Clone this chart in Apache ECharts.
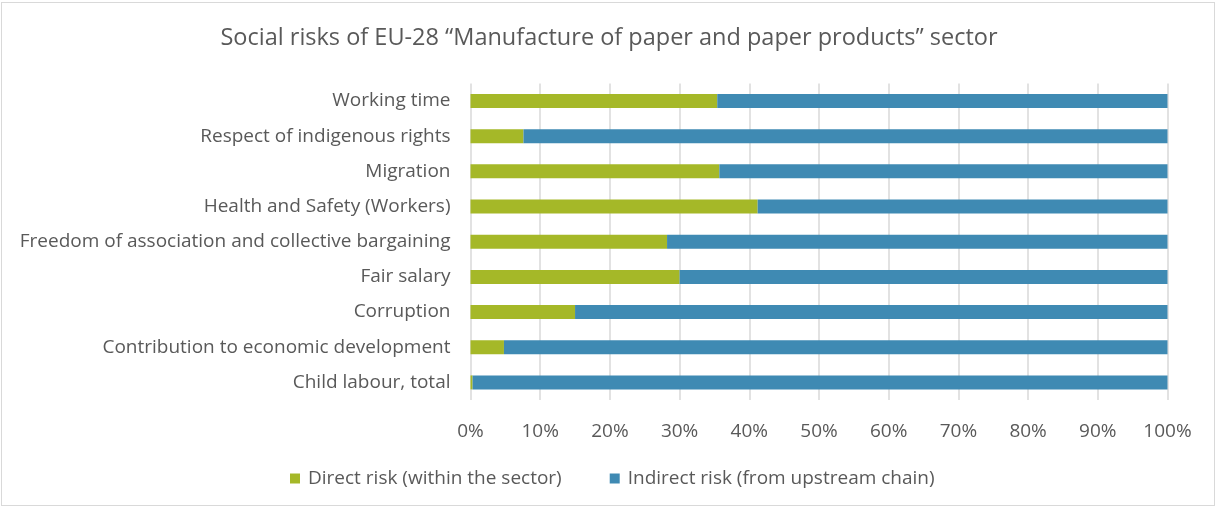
<!DOCTYPE html>
<html>
<head>
<meta charset="utf-8">
<script src="https://cdn.jsdelivr.net/npm/echarts@6/dist/echarts.min.js"></script>
<style>
  html, body { margin: 0; padding: 0; background: #fff; }
  #frame { position: absolute; left: 1px; top: 2px; width: 1214px; height: 504px; border: 1px solid #d9d9d9; box-sizing: border-box; }
  #chart { position: absolute; left: 0; top: 0; width: 1218px; height: 512px; }
</style>
</head>
<body>
<div id="frame"></div>
<div id="chart"></div>
<script>
// Social risk categories, listed bottom to top
const categories = [
  'Child labour, total',
  'Contribution to economic development',
  'Corruption',
  'Fair salary',
  'Freedom of association and collective bargaining',
  'Health and Safety (Workers)',
  'Migration',
  'Respect of indigenous rights',
  'Working time'
];
// Share of risk inside the sector (%)
const directRisk = [0.3, 4.8, 15.0, 30.0, 28.2, 41.2, 35.7, 7.6, 35.4];
// Share of risk coming from the upstream supply chain (%)
const indirectRisk = [99.7, 95.2, 85.0, 70.0, 71.8, 58.8, 64.3, 92.4, 64.6];
const seriesNames = ['Direct risk (within the sector)', 'Indirect risk (from upstream chain)'];

const textColor = '#595959';
const fontFamily = '"Open Sans", "Noto Sans", sans-serif';

const chart = echarts.init(document.getElementById('chart'), null, { renderer: 'canvas' });
chart.setOption({
  animation: false,
  backgroundColor: 'transparent',
  textStyle: { fontFamily: fontFamily },
  title: {
    text: 'Social risks of EU-28 \u201cManufacture of paper and paper products\u201d sector',
    left: 'center',
    top: 21,
    textStyle: { fontSize: 23.5, fontWeight: 'normal', color: textColor, fontFamily: fontFamily }
  },
  legend: {
    top: 464,
    left: 285,
    itemWidth: 10,
    itemHeight: 10,
    itemGap: 48,
    icon: 'rect',
    textStyle: { fontSize: 19, color: textColor, fontFamily: fontFamily, padding: [0, 0, 0, 3] },
    data: seriesNames
  },
  grid: { left: 470.5, right: 50.5, top: 83.4, bottom: 112, containLabel: false },
  xAxis: {
    type: 'value',
    min: 0,
    max: 100,
    interval: 10,
    axisLine: { show: false },
    axisTick: { show: false },
    axisLabel: { formatter: '{value}%', fontSize: 19, color: textColor, margin: 22, fontFamily: fontFamily },
    splitLine: { lineStyle: { color: '#d9d9d9', width: 1.5 } }
  },
  yAxis: {
    type: 'category',
    data: categories,
    axisLine: { show: false },
    axisTick: { show: false },
    axisLabel: { fontSize: 19, color: textColor, margin: 20, fontFamily: fontFamily }
  },
  series: [
    {
      name: seriesNames[0],
      type: 'bar',
      stack: 'risk',
      barWidth: 14,
      itemStyle: { color: '#a5b828' },
      data: directRisk
    },
    {
      name: seriesNames[1],
      type: 'bar',
      stack: 'risk',
      barWidth: 14,
      itemStyle: { color: '#3f8ab3' },
      data: indirectRisk
    }
  ]
});
</script>
</body>
</html>
